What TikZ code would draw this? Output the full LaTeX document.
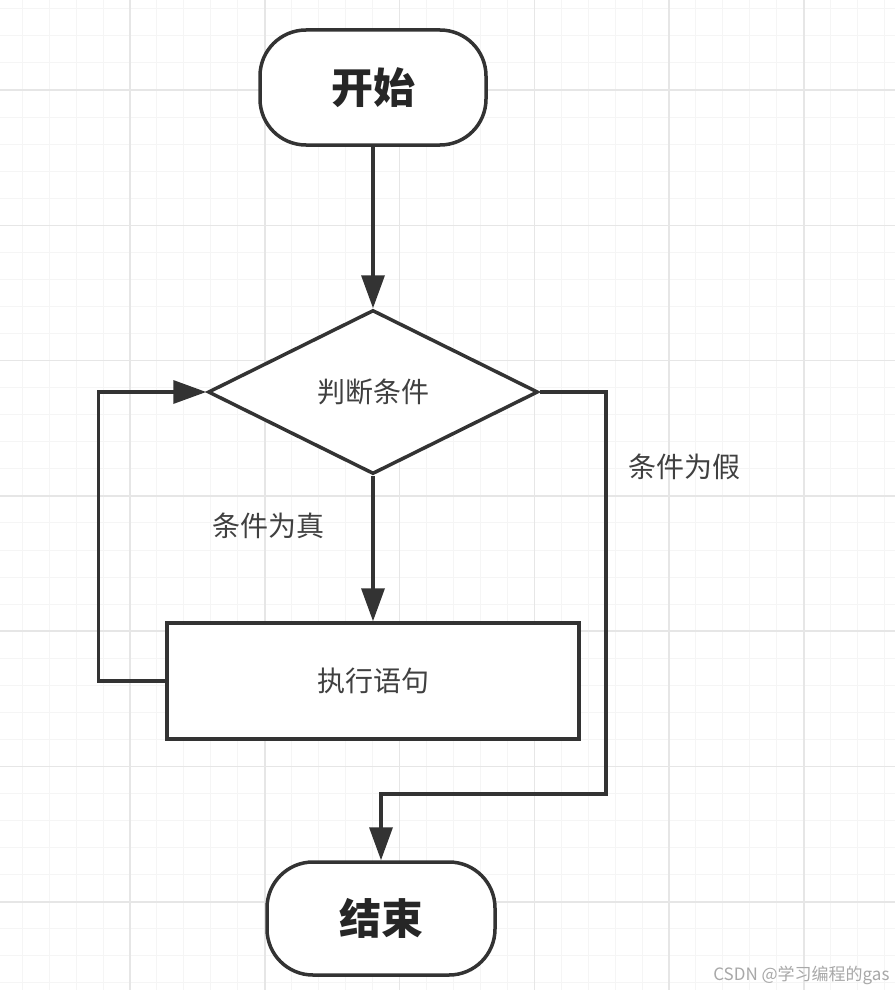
\documentclass[tikz,border=0pt]{standalone}
\usepackage{fontspec}
\newfontfamily\cjk{Noto Sans CJK SC}
\usetikzlibrary{shapes.geometric,arrows.meta}
\definecolor{lineC}{HTML}{333333}
\definecolor{txtC}{HTML}{404040}
\definecolor{gridMaj}{HTML}{E6E6E6}
\definecolor{gridMin}{HTML}{F5F5F5}
\definecolor{wmC}{HTML}{A8A8A8}
\tikzset{
  shapebase/.style={draw=lineC, line width=3.5pt, fill=white, inner sep=0pt},
  terminal/.style={shapebase, rectangle, rounded corners=46pt},
  decision/.style={shapebase, diamond, minimum width=330pt, minimum height=164pt},
  process/.style={shapebase, rectangle, minimum width=412pt, minimum height=116pt},
  bigtxt/.style={font=\cjk\bfseries\fontsize{42}{46}\selectfont, text=black!85},
  smalltxt/.style={font=\cjk\fontsize{28}{32}\selectfont, text=txtC},
  arr/.style={draw=lineC, line width=3.5pt, -{Triangle[length=33pt,width=23pt]}},
}
\begin{document}
\begin{tikzpicture}[x=1pt,y=-1pt]
\useasboundingbox (0,0) rectangle (895,990);
\fill[white] (0,0) rectangle (895,990);
% minor grid
\foreach \i in {-25,...,40}{
  \draw[gridMin, line width=1pt] (130+\i*26.95,0) -- (130+\i*26.95,990);
  \draw[gridMin, line width=1pt] (0,90+\i*27.06) -- (895,90+\i*27.06);
}
% major grid
\foreach \i in {-1,...,6}{
  \draw[gridMaj, line width=1.5pt] (130+\i*134.75,0) -- (130+\i*134.75,990);
}
\foreach \i in {-1,...,7}{
  \draw[gridMaj, line width=1.5pt] (0,90+\i*135.3) -- (895,90+\i*135.3);
}
% nodes
\node[terminal, minimum width=226pt, minimum height=115pt, bigtxt] (start) at (373,87.5) {开始};
\node[decision, smalltxt] (dec) at (373,392) {判断条件};
\node[process, smalltxt] (exec) at (373,681) {执行语句};
\node[terminal, minimum width=228pt, minimum height=113pt, bigtxt] (end) at (381,918.5) {结束};
\coordinate (fr) at (606,794);
% connectors
\draw[arr] (start.south) -- (dec.north);
\draw[arr] (dec.south) -- (exec.north);
\draw[arr] (exec.west) -- ++(-67,0) |- (dec.west);
\draw[arr] (dec.east) -| (fr) -| (end.north);
% labels
\node[smalltxt] (ltrue) at (268,526) {条件为真};
\node[smalltxt] (lfalse) at (684,467) {条件为假};
\node[font=\cjk\fontsize{17}{20}\selectfont, text=wmC, anchor=east] (wm) at (893,975) {CSDN @学习编程的gas};
\end{tikzpicture}
\end{document}
